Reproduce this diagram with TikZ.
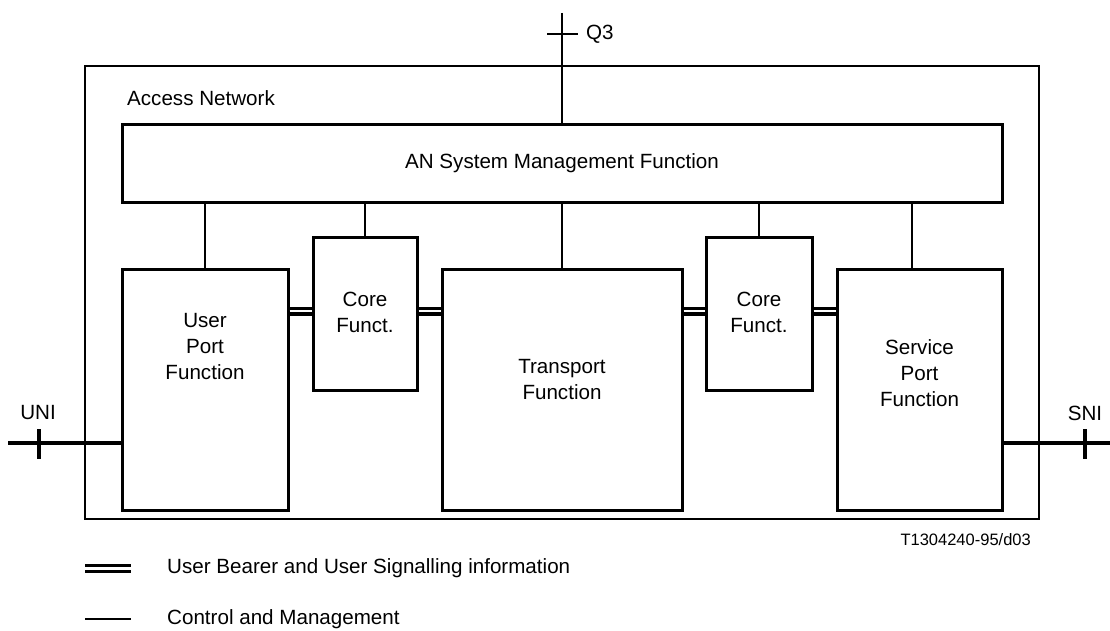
\documentclass[tikz,border=0pt]{standalone}
\usepackage{fontspec}
\setmainfont{Liberation Sans}
\begin{document}
\begin{tikzpicture}[x=1pt,y=-1pt,
  box/.style={draw, line width=3pt, inner sep=0pt},
  txt/.style={align=center, font=\fontsize{20.6}{26}\selectfont, inner sep=0pt},
  ctrl/.style={line width=1.8pt},
  bearer/.style={double, line width=3.3pt, double distance=2.4pt},
  iface/.style={line width=3.8pt}
]
\useasboundingbox (0,0) rectangle (1110,631);
% outer access network
\draw[line width=1.3pt] (85,66) rectangle (1039,519);
\node[txt, anchor=west] (an) at (127,98) {Access Network};
% boxes
\node[box, minimum width=880pt, minimum height=77pt] (mgmt) at (562,163.5) {};
\node[txt] (mgmtt) at (mgmt.center) {AN System Management Function};
\node[box, minimum width=166pt, minimum height=241pt] (upf) at (205,389.5) {};
\node[box, minimum width=104pt, minimum height=153pt] (cf1) at (365,313.5) {};
\node[box, minimum width=240pt, minimum height=241pt] (tf) at (562,389.5) {};
\node[box, minimum width=106pt, minimum height=153pt] (cf2) at (759,313.5) {};
\node[box, minimum width=165pt, minimum height=241pt] (spf) at (919.5,389.5) {};
\node[txt] (upft) at (205,347) {User\\Port\\Function};
\node[txt] (cf1t) at (365,312) {Core\\Funct.};
\node[txt] (tft) at (562,380) {Transport\\Function};
\node[txt] (cf2t) at (759,312) {Core\\Funct.};
\node[txt] (spft) at (919.5,373) {Service\\Port\\Function};
% control lines
\draw[ctrl] (upf.north) -- (upf.north |- mgmt.south);
\draw[ctrl] (cf1.north) -- (cf1.north |- mgmt.south);
\draw[ctrl] (tf.north) -- (tf.north |- mgmt.south);
\draw[ctrl] (cf2.north) -- (cf2.north |- mgmt.south);
\draw[ctrl] (912,269) -- (912,202);
% bearer
\coordinate (by) at (0,311);
\draw[bearer] (upf.east |- by) -- (cf1.west |- by);
\draw[bearer] (cf1.east |- by) -- (tf.west |- by);
\draw[bearer] (tf.east |- by) -- (cf2.west |- by);
\draw[bearer] (cf2.east |- by) -- (spf.west |- by);
% Q3
\coordinate (q3) at (562,13);
\draw[ctrl] (q3) -- (mgmt.north);
\draw[ctrl] (547,34) -- (578,34);
\node[txt, anchor=west] (q3t) at (586,34) {Q3};
% UNI
\coordinate (uni) at (8,443);
\draw[iface] (uni) -- (uni -| upf.west);
\draw[iface] (39,429) -- (39,459);
\node[txt] (unit) at (38,413) {UNI};
% SNI
\coordinate (sni) at (1110,443);
\draw[iface] (sni -| spf.east) -- (sni);
\draw[iface] (1085,429) -- (1085,459);
\node[txt] (snit) at (1085,413) {SNI};
% reference
\node[anchor=east, inner sep=0pt, font=\fontsize{16.5}{18}\selectfont] (ref) at (1031,540) {T1304240-95/d03};
% legend
\coordinate (l1a) at (85,568.5);
\coordinate (l1b) at (131,568.5);
\draw[bearer] (l1a) -- (l1b);
\node[txt, anchor=west] (l1t) at (167,568) {User Bearer and User Signalling information};
\coordinate (l2a) at (85,619);
\coordinate (l2b) at (131,619);
\draw[ctrl] (l2a) -- (l2b);
\node[txt, anchor=west] (l2t) at (167,619) {Control and Management};
\end{tikzpicture}
\end{document}
